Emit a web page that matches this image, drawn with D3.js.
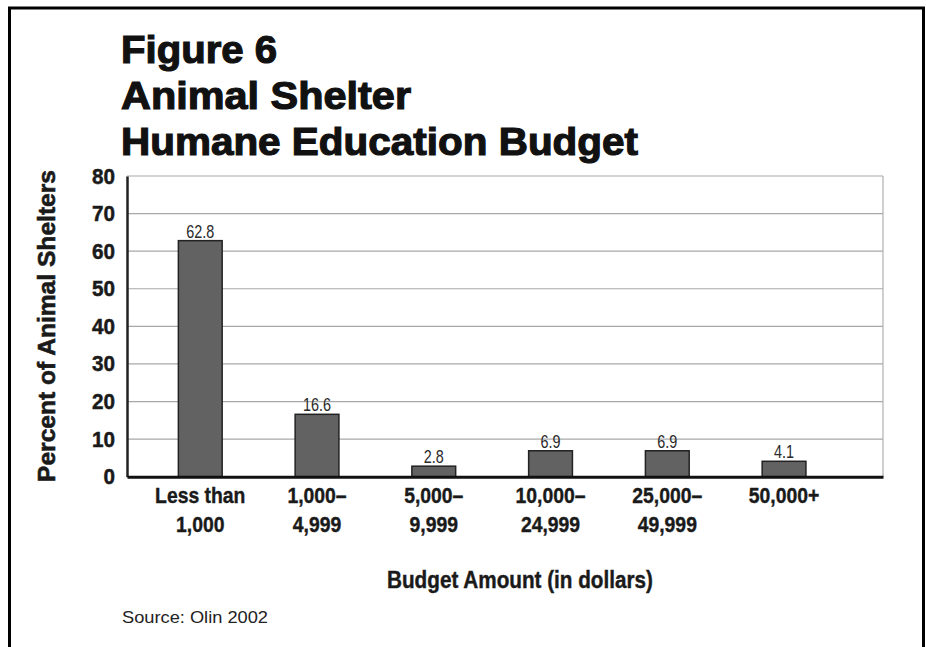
<!DOCTYPE html>
<html>
<head>
<meta charset="utf-8">
<script src="https://cdn.jsdelivr.net/npm/d3@7"></script>
<style>
  html, body { margin: 0; padding: 0; background: #fff; }
  svg { display: block; }
  text { font-family: "Liberation Sans", Arial, Helvetica, sans-serif; }
</style>
</head>
<body>
<svg id="chart" width="926" height="647"></svg>
<script>
// ---- data ----
const titleLines = ["Figure 6", "Animal Shelter", "Humane Education Budget"];
const titleWidths = [156, 290, 517];
const categories = ["Less than|1,000", "1,000–|4,999", "5,000–|9,999", "10,000–|24,999", "25,000–|49,999", "50,000+"];
const values = [62.8, 16.6, 2.8, 6.9, 6.9, 4.1];
const valueLabels = ["62.8", "16.6", "2.8", "6.9", "6.9", "4.1"];
const yTicks = [0, 10, 20, 30, 40, 50, 60, 70, 80];
const yTitle = "Percent of Animal Shelters";
const xTitle = "Budget Amount (in dollars)";
const sourceText = "Source: Olin 2002";

// ---- layout ----
const W = 926, H = 647;
const plot = { left: 127, right: 883, top: 176, bottom: 476.7 };
const svg = d3.select("#chart");

// outer frame
svg.append("path")
  .attr("d", `M9.5,${H + 5} L9.5,8 L923.5,8 L923.5,${H + 5}`)
  .attr("fill", "none").attr("stroke", "#000").attr("stroke-width", 3);

// title
svg.append("g").selectAll("text").data(titleLines).join("text")
  .attr("x", 121)
  .attr("y", (d, i) => 63 + i * 46)
  .attr("font-size", 39)
  .attr("font-weight", "bold")
  .attr("fill", "#111")
  .attr("stroke", "#111").attr("stroke-width", 1.2)
  .attr("textLength", (d, i) => titleWidths[i])
  .attr("lengthAdjust", "spacingAndGlyphs")
  .text(d => d);

// scales
const x = d3.scaleBand()
  .domain(categories)
  .range([plot.left, plot.right])
  .paddingInner(0.625)
  .paddingOuter(0.55)
  .align(0.4);
const y = d3.scaleLinear().domain([0, 80]).range([plot.bottom, plot.top]);

// gridlines
svg.append("g").selectAll("line").data(yTicks.filter(d => d > 0)).join("line")
  .attr("x1", plot.left).attr("x2", plot.right)
  .attr("y1", d => y(d)).attr("y2", d => y(d))
  .attr("stroke", "#a8a8a8").attr("stroke-width", 1.2);
// right frame of plot
svg.append("line")
  .attr("x1", plot.right).attr("x2", plot.right)
  .attr("y1", plot.top).attr("y2", plot.bottom)
  .attr("stroke", "#b0b0b0").attr("stroke-width", 1.2);

// y axis
const yAxis = d3.axisLeft(y).tickValues(yTicks).tickSize(0).tickPadding(12).tickFormat(d3.format("d"));
const yg = svg.append("g").attr("transform", `translate(${plot.left},0)`).call(yAxis);
yg.select(".domain").attr("stroke", "#222").attr("stroke-width", 2.5);
yg.selectAll("text")
  .attr("font-size", 22).attr("font-weight", "bold").attr("fill", "#1a1a1a")
  .attr("stroke", "#1a1a1a").attr("stroke-width", 0.5)
  .attr("font-family", "'Liberation Sans', Arial, sans-serif")
  .attr("textLength", d => String(d).length * 11.5)
  .attr("lengthAdjust", "spacingAndGlyphs");

// bars
svg.append("g").selectAll("rect").data(values).join("rect")
  .attr("x", (d, i) => x(categories[i]))
  .attr("width", x.bandwidth())
  .attr("y", d => y(d))
  .attr("height", d => y(0) - y(d))
  .attr("fill", "#626262")
  .attr("stroke", "#222")
  .attr("stroke-width", 1.5);

// value labels (condensed)
svg.append("g").selectAll("text").data(values).join("text")
  .attr("transform", (d, i) => `translate(${x(categories[i]) + x.bandwidth() / 2},${y(d) - 3}) scale(0.8,1)`)
  .attr("text-anchor", "middle")
  .attr("font-size", 18)
  .attr("fill", "#2a2a2a")
  .text((d, i) => valueLabels[i]);

// x axis
const xAxis = d3.axisBottom(x).tickSize(0).tickFormat("");
const xg = svg.append("g").attr("transform", `translate(0,${plot.bottom})`).call(xAxis);
xg.select(".domain").attr("stroke", "#111").attr("stroke-width", 3);

// x tick labels (two lines, condensed)
const xl = svg.append("g").selectAll("g").data(categories).join("g")
  .attr("transform", d => `translate(${x(d) + x.bandwidth() / 2},0) scale(0.88,1)`);
xl.each(function(d) {
  const g = d3.select(this);
  d.split("|").forEach((line, i) => {
    g.append("text")
      .attr("x", 0).attr("y", 503 + i * 29)
      .attr("text-anchor", "middle")
      .attr("font-size", 22)
      .attr("font-weight", "bold")
      .attr("fill", "#1a1a1a")
      .attr("stroke", "#1a1a1a").attr("stroke-width", 0.4)
      .text(line);
  });
});

// axis titles
svg.append("text")
  .attr("transform", `translate(55,326) rotate(-90)`)
  .attr("text-anchor", "middle")
  .attr("font-size", 24)
  .attr("font-weight", "bold")
  .attr("fill", "#1a1a1a")
  .attr("stroke", "#1a1a1a").attr("stroke-width", 0.6)
  .attr("textLength", 312)
  .attr("lengthAdjust", "spacingAndGlyphs")
  .text(yTitle);

svg.append("g").attr("transform", "translate(520,588) scale(0.9,1)")
  .append("text")
  .attr("text-anchor", "middle")
  .attr("font-size", 23)
  .attr("font-weight", "bold")
  .attr("fill", "#1a1a1a")
  .attr("stroke", "#1a1a1a").attr("stroke-width", 0.4)
  .text(xTitle);

// source
svg.append("text")
  .attr("x", 122).attr("y", 623)
  .attr("font-size", 17)
  .attr("fill", "#222")
  .attr("textLength", 146)
  .attr("lengthAdjust", "spacingAndGlyphs")
  .text(sourceText);
</script>
</body>
</html>
